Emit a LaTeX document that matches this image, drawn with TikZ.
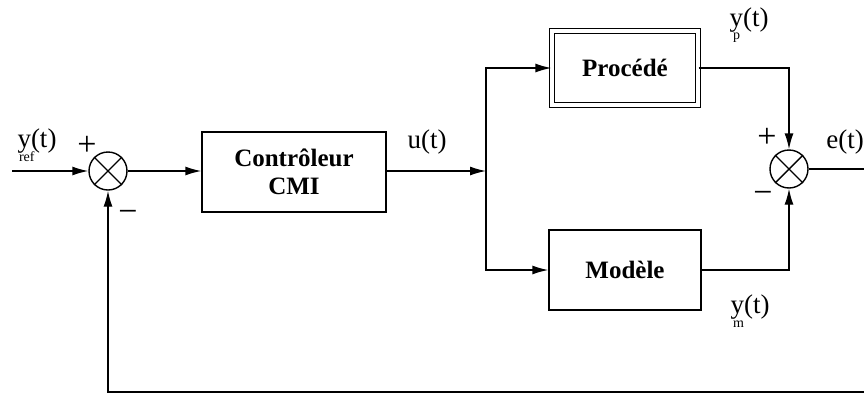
\documentclass[tikz,border=0pt]{standalone}
\usepackage{fontspec}
\setmainfont{Liberation Serif}
\usepackage{tikz}
\usetikzlibrary{arrows.meta, calc, positioning}
\tikzset{>={Latex[length=16pt,width=9pt]}}
\tikzset{
    block/.style={draw, line width=1.4pt, minimum width=184pt, minimum height=80pt, font=\fontsize{25}{28}\selectfont\bfseries, align=center},
    sumnode/.style={draw, circle, line width=1.4pt, minimum size=38pt, inner sep=0pt},
    sig/.style={font=\fontsize{27}{29}\selectfont, inner sep=1pt},
    sgn/.style={font=\fontsize{34}{36}\selectfont}
}
\newcommand{\sub}[2]{\rlap{\raisebox{-1.1ex}{\fontsize{14}{14}\selectfont\kern#1 #2}}}

\begin{document}
\begin{tikzpicture}[x=1pt, y=-1pt, line width=1.4pt]
\useasboundingbox (0,0) rectangle (864,394);

% Blocks
\node[sumnode] (sum1) at (108,171) {};
\node[block] (ctrl) at (294,172) {Contrôleur\\CMI};
\node[block, minimum width=146pt, minimum height=74pt, double=white, double distance=3.4pt, line width=1.3pt] (proc) at (625,68) {Procédé};
\node[block, minimum width=152pt] (model) at (625,270) {Modèle};
\node[sumnode] (sum2) at (789,169) {};

% Crosses in the summing junctions
\foreach \s in {sum1, sum2} {
    \draw (\s.north west) -- (\s.south east);
    \draw (\s.north east) -- (\s.south west);
}

% Points of the connectors
\coordinate (in) at (12,171);
\coordinate (split) at (486,171);
\coordinate (out) at (864,169);
\coordinate (fbr) at (864,392);
\coordinate (fbl) at (108,392);

% Connectors
\draw[->] (in) -- (sum1.west);
\draw[->] (sum1.east) -- (sum1.east -| ctrl.west);
\draw[->] (ctrl.east |- split) -- (split);
\draw[->] (split) |- (proc.west);
\draw[->] (split) |- (model.west);
\draw[->] (proc.east) -| (sum2.north);
\draw[->] (model.east) -| (sum2.south);
\draw (sum2.east) -- (out);
\draw[->] (fbr) -- (fbl) -- (sum1.south);

% Signals
\node[sig] (yref) at (37,145) {y\sub{-12pt}{ref}(t)};
\node[sgn] (p1) at (87,146) {+};
\node[sgn] (m1) at (128,216) {\textminus};
\node[sig] (u) at (427,142) {u(t)};
\node[sig] (yp) at (749,25) {y\sub{-10pt}{p}(t)};
\node[sgn] (p2) at (767,138) {+};
\node[sgn] (m2) at (763,197) {\textminus};
\node[sig] (e) at (845,142) {e(t)};
\node[sig] (ym) at (750,311) {y\sub{-11pt}{m}(t)};

\end{tikzpicture}
\end{document}
